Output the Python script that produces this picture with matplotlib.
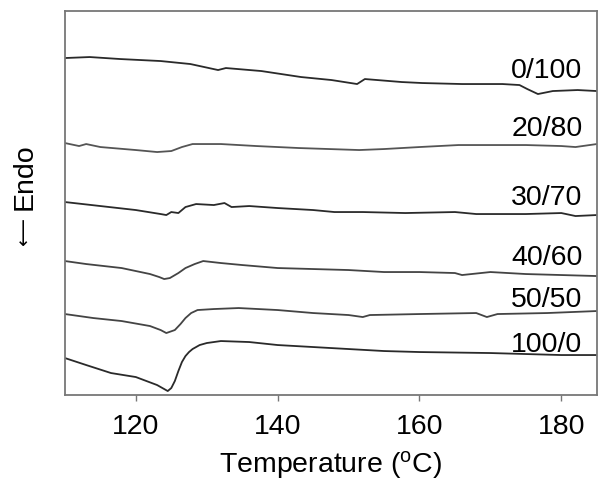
import matplotlib
matplotlib.use("Agg")
import matplotlib.pyplot as plt

plt.rcParams['font.family'] = ['Liberation Sans', 'DejaVu Sans']
plt.rcParams['mathtext.default'] = 'regular'

# heat flow (arbitrary units, curves offset vertically)
t_0_100 = [110, 113.5, 117.8, 123.5, 127.7, 131.6, 132.7, 137.7, 143.3, 147.6, 151.2, 152.3, 157.5, 160.4, 166, 171.7, 174.1, 175.2, 176.7, 178.8, 182.3, 185]
h_0_100 = [337, 338, 336, 334, 331, 325, 327, 324, 318, 315, 311, 316, 313, 312, 311, 311, 310, 306, 301, 304, 305, 304]

t_20_80 = [110, 112, 113, 115, 120, 123, 125, 126.5, 128, 132, 137, 143, 151.5, 155, 160, 165.5, 170, 175, 180, 182, 185]
h_20_80 = [252, 249, 251, 248, 245, 243, 244, 248, 251, 251, 249, 247, 245, 246, 248, 250, 250, 250, 249, 248, 251]

t_30_70 = [110, 115, 120, 123.5, 124.3, 125, 126, 127, 128.5, 131, 132.5, 133.5, 136, 140, 145, 148, 152, 158, 165, 168, 175, 180, 182, 185]
h_30_70 = [193, 189, 185, 181, 180, 183, 182, 188, 191, 190, 192, 188, 189, 187, 185, 183, 183, 182, 183, 181, 181, 182, 179, 180]

t_40_60 = [110, 113, 118, 122, 123.3, 124, 124.8, 126, 127, 128.3, 129.5, 132, 135, 140, 145, 150, 155, 160, 165, 166, 170, 175, 180, 185]
h_40_60 = [134, 131, 127, 121, 118, 116, 117, 122, 127, 131, 134, 132, 130, 127, 126, 125, 123, 123, 122, 120, 123, 121, 120, 119]

t_50_50 = [110, 114, 118, 122, 123.5, 124.3, 125.5, 126.3, 127, 127.8, 128.7, 131, 134.5, 140, 145, 150, 152, 153, 160, 168, 169.5, 171, 178, 185]
h_50_50 = [81, 77, 74, 69, 65, 62, 65, 71, 77, 82, 85, 86, 87, 85, 82, 80, 78, 80, 81, 82, 78, 81, 82, 84]

t_100_0 = [110, 113, 116.5, 120, 123, 124, 124.5, 125, 125.5, 126, 126.5, 127, 127.5, 128, 129, 130, 132, 136, 140, 145, 150, 155, 160, 170, 175, 180, 185]
h_100_0 = [37, 30, 22, 18, 10, 6, 4, 7, 14, 24, 33, 39, 43, 46, 50, 52, 54, 53, 50, 48, 46, 44, 43, 42, 41, 40, 40]

names = ["0/100", "20/80", "30/70", "40/60", "50/50", "100/0"]
label_y = [324, 266, 197, 137, 95, 50]

curves = [(t_0_100, h_0_100), (t_20_80, h_20_80), (t_30_70, h_30_70),
          (t_40_60, h_40_60), (t_50_50, h_50_50), (t_100_0, h_100_0)]
colors = ["#2a2a2a", "#555555", "#2a2a2a", "#444444", "#444444", "#2a2a2a"]

fig = plt.figure(figsize=(6.01, 4.8), dpi=100)
ax = fig.add_axes([0.108, 0.177, 0.885, 0.80])

for (t, h), c in zip(curves, colors):
    ax.plot(t, h, color=c, lw=1.3)

for name, y in zip(names, label_y):
    ax.text(183, y, name, ha='right', va='center', fontsize=20.5)

ax.set_xlim(110, 185)
ax.set_ylim(0, 384)
ax.set_xticks([120, 140, 160, 180])
ax.set_yticks([])
ax.tick_params(axis='x', direction='out', length=4, width=1, color='#777777', labelsize=20.5, pad=10)
for s in ax.spines.values():
    s.set_color('#777777')
    s.set_linewidth(1.3)

ax.set_xlabel("Temperature ($^{o}$C)", fontsize=20.5, labelpad=6)

# y label: "<- Endo", thin long arrow from DejaVu Sans
ax.text(-0.075, 0.57, "Endo", transform=ax.transAxes, rotation=90,
        ha='center', va='center', fontsize=20.5)
ax.text(-0.076, 0.425, "\u27f5", transform=ax.transAxes, rotation=90,
        ha='center', va='center', fontsize=14, family=['DejaVu Sans'])

fig.savefig("out.png", dpi=100)
